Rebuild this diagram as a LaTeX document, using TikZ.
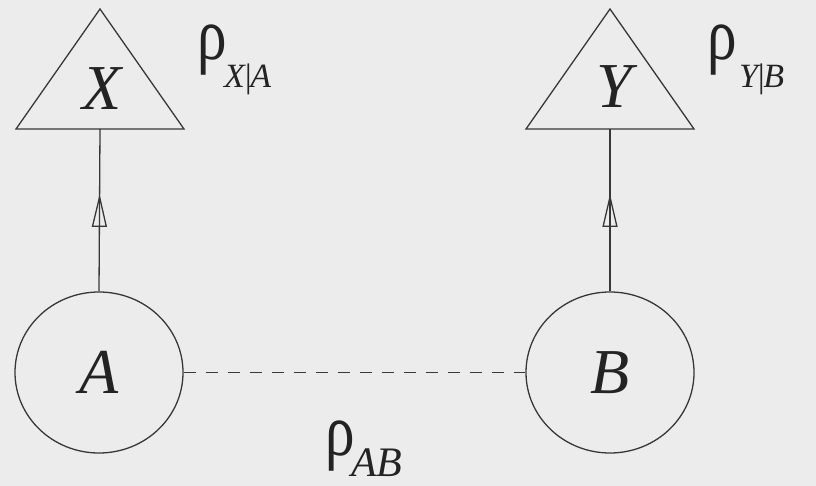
\documentclass[tikz,border=0pt]{standalone}
\usepackage{fontspec}
\setmainfont{Liberation Serif}
\newfontfamily\tms{Liberation Serif}
\usetikzlibrary{arrows.meta,decorations.markings,shapes.geometric}
\definecolor{bgc}{RGB}{236,236,236}
\definecolor{inkc}{RGB}{55,55,55}
\definecolor{txtc}{RGB}{35,35,35}
\newcommand{\myrho}{\scalebox{0.8}[1]{\fontsize{74pt}{74pt}\tms\selectfont ρ}}
\begin{document}
\begin{tikzpicture}[x=1pt,y=-1pt,
  ink/.style={draw=inkc,line width=1.3pt},
  ell/.style={ellipse,ink,minimum width=168pt,minimum height=161pt,inner sep=0pt,
    font=\fontsize{64pt}{64pt}\tms\itshape\selectfont,text=txtc},
  letter/.style={anchor=base,inner sep=0pt,font=\fontsize{64pt}{64pt}\tms\itshape\selectfont,text=txtc},
  rholbl/.style={anchor=base west,inner sep=0pt,text=txtc},
  sublbl/.style={anchor=base west,inner sep=0pt,text=txtc,font=\fontsize{34pt}{34pt}\tms\itshape\selectfont},
  bigsub/.style={anchor=base west,inner sep=0pt,text=txtc,font=\fontsize{42pt}{42pt}\tms\itshape\selectfont},
  conn/.style={ink,postaction={decorate},decoration={markings,
    mark=at position 0.6 with {\arrow{Triangle[open,length=33pt,width=15pt,line width=1.3pt]}}}},
  dashconn/.style={ink,dash pattern=on 12pt off 10pt}]
\useasboundingbox (0,0) rectangle (816,486);
\fill[bgc] (0,0) rectangle (816,486);
% triangles
\coordinate (Xt) at (100,9);
\coordinate (Xl) at (16,129);
\coordinate (Xr) at (184,129);
\coordinate (Xb) at (100,129);
\coordinate (Yt) at (610,9);
\coordinate (Yl) at (526,129);
\coordinate (Yr) at (694,129);
\coordinate (Yb) at (610,129);
\draw[ink,line join=miter] (Xl) -- (Xt) -- (Xr) -- cycle;
\draw[ink,line join=miter] (Yl) -- (Yt) -- (Yr) -- cycle;
\node[letter] (X) at (102,110) {X};
\node[letter] (Y) at (614,108) {Y};
% circles
\node[ell] (A) at (99,372.5) {A};
\node[ell] (B) at (610,372.5) {B};
% connectors
\draw[conn] (A.north) -- (Xb);
\draw[conn] (B.north) -- (Yb);
\draw[dashconn] (A.east) -- (B.west);
% labels
\node[rholbl] (rXA) at (197,60) {\myrho};
\node[sublbl] (sXA) at (224,88) {X\kern-2pt|\kern-2ptA};
\node[rholbl] (rYB) at (707,60) {\myrho};
\node[sublbl] (sYB) at (739,88) {Y\kern-2pt|\kern-2ptB};
\node[rholbl] (rAB) at (325,455) {\myrho};
\node[bigsub] (sAB) at (351,476) {AB};
\end{tikzpicture}
\end{document}
